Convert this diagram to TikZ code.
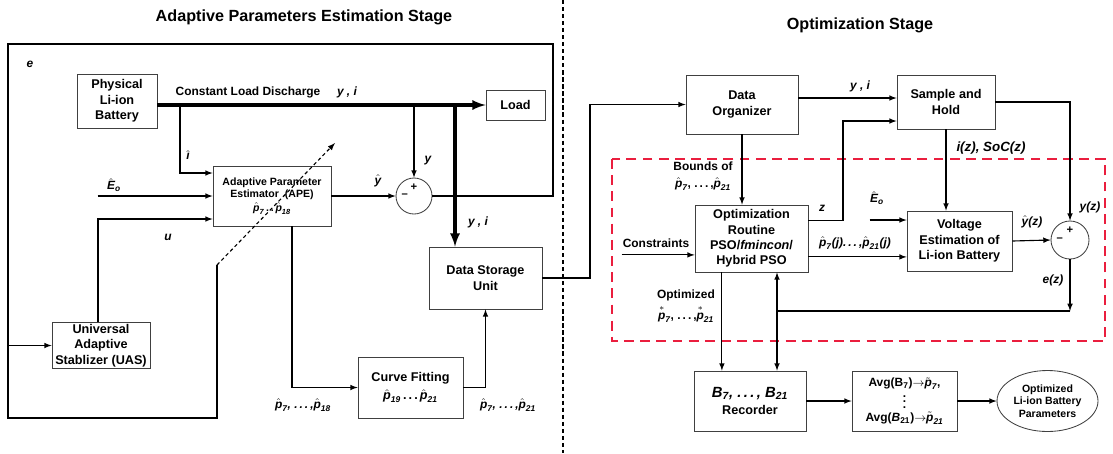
\documentclass[tikz,border=0pt]{standalone}
\usepackage{amsmath}
\usepackage{fontspec}
\setmainfont{Liberation Sans}
\usepackage{tikz}
\usetikzlibrary{calc,arrows,shapes.geometric}

\definecolor{optred}{RGB}{234,30,62}
% estimated parameters, starred and averaged ones
\newcommand{\phat}[1]{$\hat{\text{\itshape p}}_{\text{\itshape #1}}$}
\newcommand{\pstar}[1]{$\overset{*}{\text{\itshape p}}_{\text{\itshape #1}}$}
\newcommand{\ptil}[1]{$\tilde{\text{\itshape p}}_{\text{\itshape #1}}$}
\newcommand{\Ehat}{$\hat{\text{\itshape E}}_{\text{\itshape o}}$}

\begin{document}
\begin{tikzpicture}[x=0.25mm,y=-0.25mm,
  every node/.style={font=\bfseries\fontsize{9}{11}\selectfont},
  block/.style={draw=black!75,line width=0.6pt,align=center,inner sep=1pt},
  lbl/.style={font=\bfseries\itshape\fontsize{8.5}{10}\selectfont,inner sep=0pt,align=center},
  wire/.style={line width=0.8pt},
  sig/.style={wire,-latex},
  bus/.style={line width=2.2pt,-latex}]
\useasboundingbox (0,0) rectangle (1113,453);

\node[font=\bfseries\fontsize{11.5}{13}\selectfont] (titleL) at (304,17) {Adaptive Parameters Estimation Stage};
\node[font=\bfseries\fontsize{11.5}{13}\selectfont] (titleR) at (860,25) {Optimization Stage};
\draw[line width=1pt,dash pattern=on 3pt off 2pt] (563,0) -- (563,453);

% left stage blocks
\node[block,minimum width=20mm,minimum height=13.5mm] (bat) at (117,101) {Physical\\Li-ion\\Battery};
\node[block,minimum width=14.75mm,minimum height=7.5mm] (load) at (515.5,105) {Load};
\node[block,minimum width=29.5mm,minimum height=15mm,font=\bfseries\fontsize{7.5}{8.5}\selectfont] (ape) at (272,196)
  {Adaptive Parameter\\Estimator \ (APE)\\[1.5pt]\phat{7}\,.\,.\,\phat{18}};
\node[block,minimum width=24.5mm,minimum height=11.25mm] (uas) at (101,345.5) {Universal\\Adaptive\\Stablizer (UAS)};
\node[block,minimum width=26.25mm,minimum height=15.25mm] (curve) at (410.5,387.5) {Curve Fitting\\[2pt]\phat{19}\,.\,.\,.\,\phat{21}};
\node[block,minimum width=28.25mm,minimum height=15.5mm] (store) at (485.5,278) {Data Storage\\Unit};
\node[draw=black!75,line width=0.6pt,circle,minimum size=9mm,inner sep=0pt] (sum1) at (414,196) {};
\node[font=\bfseries\fontsize{8}{8}\selectfont,inner sep=0pt] (sum1p) at ([yshift=-2.3mm]sum1.north) {+};
\node[font=\bfseries\fontsize{8}{8}\selectfont,inner sep=0pt] (sum1m) at ([xshift=2.3mm]sum1.west) {--};

% right stage blocks
\node[block,minimum width=28mm,minimum height=14.75mm] (org) at (742,104.5) {Data\\Organizer};
\node[block,minimum width=24.5mm,minimum height=13.5mm] (sh) at (946,102) {Sample and\\Hold};
\node[block,minimum width=28.25mm,minimum height=16.75mm] (opt) at (751.5,238.5) {Optimization\\Routine\\PSO/\textit{fmincon}/\\Hybrid PSO};
\node[block,minimum width=26.25mm,minimum height=15mm] (volt) at (959.5,241) {Voltage\\Estimation of\\Li-ion Battery};
\node[draw=black!75,line width=0.6pt,circle,minimum size=9.5mm,inner sep=0pt] (sum2) at (1070,240) {};
\node[font=\bfseries\fontsize{8}{8}\selectfont,inner sep=0pt] (sum2p) at ([yshift=-2.3mm]sum2.north) {+};
\node[font=\bfseries\fontsize{8}{8}\selectfont,inner sep=0pt] (sum2m) at ([xshift=2.3mm]sum2.west) {--};
\node[block,minimum width=28mm,minimum height=15mm] (rec) at (750,401)
  {{\fontsize{10.5}{12}\selectfont\itshape B\textsubscript{7}, .\,.\,.\,, B\textsubscript{21}}\\[1pt]Recorder};
\node[block,minimum width=26.25mm,minimum height=15mm,font=\bfseries\fontsize{8.5}{9}\selectfont] (avg) at (904.5,401)
  {Avg(B\textsubscript{7})$\to$\ptil{7},\\[-3pt]$\vdots$\\[0pt]Avg(\textit{B}\textsubscript{21})$\to$\ptil{21}};
\node[draw=black!75,line width=0.6pt,ellipse,minimum width=25.25mm,minimum height=15.25mm,inner sep=0pt,align=center,
  font=\bfseries\fontsize{7.5}{9}\selectfont] (res) at (1047.5,401) {Optimized\\Li-ion Battery\\Parameters};
\draw[optred,line width=2pt,dash pattern=on 7pt off 4.5pt] (612,159) rectangle (1105,341);

% error loop e and the tuning arrow
\coordinate (eR) at (553,196);
\coordinate (eTL) at (8,44);
\coordinate (eBL) at (8,418);
\coordinate (eBR) at (217,418);
\coordinate (tune) at (217,265);
\coordinate (tuneTip) at (335,143);
\draw[wire] (sum1.east) -- (eR) |- (eTL) -- (eBL) -- (eBR) -- (tune);
\draw[wire,-latex,dash pattern=on 2.5pt off 2pt] (tune) -- (tuneTip);
\draw[sig] (eBL |- uas.west) -- (uas.west);

% discharge bus
\draw[bus] (bat.east |- load.west) -- (load.west);
\coordinate (tapS) at (455,105);
\draw[bus] (tapS) -- (tapS |- store.north);
\draw[sig] (sum1 |- load.west) -- (sum1.north);
\coordinate (tapI) at (180,105);
\draw[sig] (tapI) |- ([yshift=5.75mm]ape.west);
\draw[sig] ([xshift=-28.75mm]ape.west) -- (ape.west);
\draw[sig] ([xshift=-0.75mm]uas.north) |- ([yshift=-5.75mm]ape.west);
\draw[sig] (ape.east) -- (sum1.west);
\draw[sig] ([xshift=5mm]ape.south) |- (curve.west);
\draw[sig] (curve.east) -| (store.south);

% over to the optimization stage
\coordinate (jog) at (590,200);
\draw[sig] (store.east) -| (jog |- org.west) -- (org.west);
\coordinate (yIn) at ([yshift=1mm]sh.west);
\draw[sig] (org.east |- yIn) -- (yIn);
\coordinate (zOut) at ([yshift=4.6mm]opt.east);
\coordinate (zIn) at ([yshift=-4.75mm]sh.west);
\coordinate (zK) at (843,220);
\draw[sig] (zOut) -- (zOut -| zK) |- (zIn);
\draw[sig] (sh.south) -- (sh.south |- volt.north);
\draw[sig] (sh.east) -| (sum2.north);
\draw[sig] (volt.east) -- (sum2.west);
\coordinate (pOut) at ([yshift=-4.6mm]opt.east);
\draw[sig] (pOut) -- (pOut -| volt.west);
\coordinate (eoIn) at ([yshift=5.25mm]volt.west);
\draw[sig] ([xshift=-9.25mm]eoIn) -- (eoIn);
\coordinate (conIn) at ([yshift=-4.1mm]opt.west);
\draw[sig] ([xshift=-18.25mm]conIn) -- (conIn);
\draw[sig] (org.south) -- (org.south |- opt.north);
\coordinate (optOut) at ([xshift=-7.4mm]opt.south);
\draw[sig] (optOut) -- (optOut |- rec.north);
\coordinate (eK) at (1070,311);
\coordinate (fb) at (777,311);
\draw[sig] (sum2.south) -- (eK);
\draw[wire] (eK) -- (fb);
\draw[sig] (fb) -- (fb |- opt.south);
\draw[sig] (fb) -- (fb |- rec.north);
\draw[sig] (rec.east) -- (avg.west);
\draw[sig] (avg.east) -- (res.west);

% signal labels
\node[lbl] (eLbl) at (30,64) {e};
\node[lbl,font=\bfseries\fontsize{8.5}{10}\selectfont] (cld) at (248,92) {Constant Load Discharge};
\node[lbl] (yiTop) at (347,92) {y , i};
\node[lbl] (yLbl) at (428,161) {y};
\node[lbl] (yhLbl) at (378,181) {$\hat{\text{\itshape y}}$};
\node[lbl] (yiDown) at (478,222) {y , i};
\node[lbl] (iLbl) at (188,155) {$\hat{\text{\itshape\i}}$};
\node[lbl] (eoLbl) at (114,185) {\Ehat};
\node[lbl] (uLbl) at (168,237) {u};
\node[lbl] (p18Lbl) at (303,405) {\phat{7}, .\,.\,.\,,\phat{18}};
\node[lbl] (p21Lbl) at (508,405) {\phat{7}, .\,.\,.\,,\phat{21}};
\node[lbl] (yiOrg) at (860,86) {y , i};
\node[lbl,font=\bfseries\fontsize{8.5}{10}\selectfont] (bndLbl) at (703,176) {Bounds of\\[2pt]\phat{7}, .\,.\,.\,,\phat{21}};
\node[lbl] (zLbl) at (822,208) {z};
\node[lbl] (eoLbl2) at (877,198) {\Ehat};
\node[lbl] (pjLbl) at (855,243) {\phat{7}(j).\,.\,.\,,\phat{21}(j)};
\node[lbl,font=\bfseries\fontsize{8.5}{10}\selectfont] (conLbl) at (656,243) {Constraints};
\node[lbl,font=\bfseries\fontsize{8.5}{10}\selectfont] (optLbl) at (686,306) {Optimized\\[2pt]\pstar{7}, .\,.\,.\,,\pstar{21}};
\node[lbl,font=\bfseries\itshape\fontsize{9.5}{11}\selectfont] (socLbl) at (991,148) {i(z), SoC(z)};
\node[lbl] (yzLbl) at (1090,207) {y(z)};
\node[lbl] (yhzLbl) at (1032,222) {$\hat{\text{\itshape y}}$(z)};
\node[lbl] (ezLbl) at (1053,280) {e(z)};
\end{tikzpicture}
\end{document}
